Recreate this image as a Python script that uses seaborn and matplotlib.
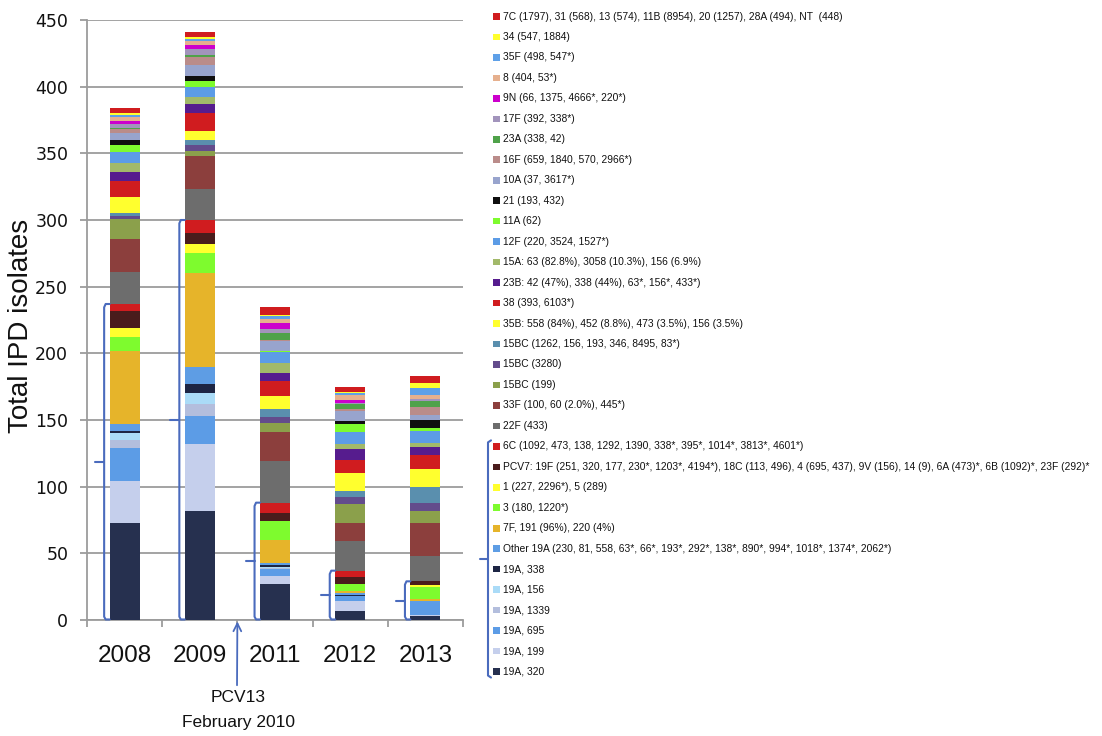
import matplotlib
matplotlib.use("Agg")
import matplotlib.pyplot as plt
from matplotlib import font_manager
from matplotlib.patches import Rectangle
import numpy as np
import pandas as pd
import seaborn as sns

# ---------------------------------------------------------------- data
years = ["2008", "2009", "2011", "2012", "2013"]

# serotype groups, listed from the bottom of each stack to the top
serotypes = [
    "19A, 320",
    "19A, 199",
    "19A, 695",
    "19A, 1339",
    "19A, 156",
    "19A, 338",
    "Other 19A (230, 81, 558, 63*, 66*, 193*, 292*, 138*, 890*, 994*, 1018*, 1374*, 2062*)",
    "7F, 191 (96%), 220 (4%)",
    "3 (180, 1220*)",
    "1 (227, 2296*), 5 (289)",
    "PCV7: 19F (251, 320, 177, 230*, 1203*, 4194*), 18C (113, 496), 4 (695, 437), 9V (156), 14 (9), 6A (473)*, 6B (1092)*, 23F (292)*",
    "6C (1092, 473, 138, 1292, 1390, 338*, 395*, 1014*, 3813*, 4601*)",
    "22F (433)",
    "33F (100, 60 (2.0%), 445*)",
    "15BC (199)",
    "15BC (3280)",
    "15BC (1262, 156, 193, 346, 8495, 83*)",
    "35B: 558 (84%), 452 (8.8%), 473 (3.5%), 156 (3.5%)",
    "38 (393, 6103*)",
    "23B: 42 (47%), 338 (44%), 63*, 156*, 433*)",
    "15A: 63 (82.8%), 3058 (10.3%), 156 (6.9%)",
    "12F (220, 3524, 1527*)",
    "11A (62)",
    "21 (193, 432)",
    "10A (37, 3617*)",
    "16F (659, 1840, 570, 2966*)",
    "23A (338, 42)",
    "17F (392, 338*)",
    "9N (66, 1375, 4666*, 220*)",
    "8 (404, 53*)",
    "35F (498, 547*)",
    "34 (547, 1884)",
    "7C (1797), 31 (568), 13 (574), 11B (8954), 20 (1257), 28A (494), NT  (448)",
]

serotype_colors = [
    "#26304f", "#c5cfec", "#5c9ce6", "#b3bedd", "#aadbf7", "#1d2544",
    "#5e9de4", "#e6b42a", "#7efb2e", "#ffff2e", "#4a1c1c", "#d01c1f",
    "#6d6d6d", "#8c3f3d", "#8ba04b", "#634c8c", "#5a8fae", "#ffff2e",
    "#d01c1f", "#561c8e", "#a2b96a", "#5c9ce6", "#7efb2e", "#0f0f0f",
    "#98a4cd", "#ba8c8a", "#4fa24a", "#a294bc", "#cc00cc", "#e6b08e",
    "#5ea0e8", "#ffff2e", "#d01c1f",
]

# isolate counts per year, same order as serotypes (bottom -> top)
counts_2008 = [73, 31, 25, 6, 5, 2, 5, 55, 10, 7, 13, 5, 24, 25, 15, 2, 2,
               12, 12, 7, 7, 8, 5, 4, 5, 3, 1, 3, 2, 3, 2, 1, 4]
counts_2009 = [82, 50, 21, 9, 8, 7, 13, 70, 15, 7, 8, 10, 23, 25, 4, 4, 4,
               7, 13, 7, 5, 8, 4, 4, 8, 6, 2, 4, 3, 3, 2, 1, 4]
counts_2011 = [27, 6, 5, 1, 1, 1, 2, 17, 14, 0, 6, 8, 31, 22, 7, 4, 6,
               10, 11, 6, 8, 8, 1, 0, 7, 1, 5, 3, 5, 3, 2, 1, 6]
counts_2012 = [7, 7, 4, 0, 0, 1, 1, 2, 5, 0, 5, 5, 22, 14, 14, 5, 5,
               13, 10, 8, 4, 9, 6, 2, 8, 1, 4, 1, 2, 4, 1, 1, 4]
counts_2013 = [3, 1, 9, 0, 0, 0, 1, 2, 9, 1, 3, 0, 19, 25, 9, 6, 12,
               13, 11, 6, 3, 9, 2, 6, 4, 6, 4, 2, 0, 3, 5, 4, 5]

PCV13_TOP = serotypes.index(
    "6C (1092, 473, 138, 1292, 1390, 338*, 395*, 1014*, 3813*, 4601*)")

counts = pd.DataFrame(
    np.array([counts_2008, counts_2009, counts_2011, counts_2012, counts_2013]).T,
    index=serotypes, columns=years)
cumulative = counts.cumsum(axis=0)

# ---------------------------------------------------------------- style
sns.set_theme(style="white")
available = {f.name for f in font_manager.fontManager.ttflist}
narrow = "Liberation Sans Narrow" if "Liberation Sans Narrow" in available else None
plt.rcParams["font.family"] = ["DejaVu Sans"]

legend_family = narrow or "Liberation Sans"
legend_size = 8.9 if narrow else 7.4
label_family = narrow or "Liberation Sans"
label_size = 25 if narrow else 20

W, H = 1102, 736
fig = plt.figure(figsize=(W / 100, H / 100), dpi=100)
ax = fig.add_axes([87 / W, 116 / H, 376 / W, 600 / H])

grid_gray = "#9c9c9c"
brace_blue = "#4a6bbd"

# stacked bars: draw running totals from the top series down, each covering the next
for k in range(len(serotypes) - 1, -1, -1):
    sns.barplot(x=years, y=cumulative.iloc[k].values, order=years,
                color=serotype_colors[k], saturation=1, width=0.4,
                linewidth=0, errorbar=None, ax=ax, zorder=3)

ax.set_xlim(-0.5, len(years) - 0.5)
ax.set_ylim(0, 450)
ax.set_yticks(np.arange(0, 451, 50))
ax.yaxis.grid(True, color=grid_gray, linewidth=1.3, zorder=0)
ax.set_axisbelow(True)
for side in ("top", "right"):
    ax.spines[side].set_visible(False)
for side in ("left", "bottom"):
    ax.spines[side].set_color(grid_gray)
    ax.spines[side].set_linewidth(1.3)

ax.tick_params(axis="y", length=5, width=1.3, color=grid_gray, pad=8.5,
               labelsize=12.5, labelcolor="#111111", left=True)
ax.set_xticks(range(len(years)))
ax.set_xticklabels(years, fontfamily="Liberation Sans", fontsize=17.5)
ax.tick_params(axis="x", length=0, pad=18, labelcolor="#111111")
ax.set_xticks(np.arange(-0.5, len(years), 1.0), minor=True)
ax.tick_params(axis="x", which="minor", length=5, width=1.3, color=grid_gray,
               bottom=True)
ax.set_xlabel("")
ax.set_ylabel("Total IPD isolates", fontfamily=label_family, fontsize=label_size,
              color="#111111")
ax.yaxis.set_label_coords(-0.14, 0.49)

# braces marking the PCV13-type serotypes in each bar
for i, year in enumerate(years):
    top = cumulative[year].iloc[PCV13_TOP]
    mid = top / 2.0
    left, bx, tip = i - 0.2, i - 0.272, i - 0.39
    ax.plot([left, bx + 0.02, bx, bx, bx + 0.02, left],
            [top, top, top - 2.5, 2.5, 0.4, 0.4],
            color=brace_blue, linewidth=1.5, zorder=4, solid_joinstyle="round",
            clip_on=False)
    ax.plot([bx, tip], [mid, mid], color=brace_blue, linewidth=1.5, zorder=4,
            clip_on=False)

# vaccine introduction marker
ax.annotate("", xy=(1.5, 1), xycoords="data",
            xytext=(237 / W, 1 - 688 / H), textcoords="figure fraction",
            arrowprops=dict(arrowstyle="->", color=brace_blue, lw=1.3,
                            mutation_scale=14))
fig.text(238 / W, 1 - 697 / H, "PCV13", ha="center", va="center",
         fontfamily="Liberation Sans", fontsize=12.5, color="#111111")
fig.text(238 / W, 1 - 722 / H, "February 2010", ha="center", va="center",
         fontfamily="Liberation Sans", fontsize=12.5, color="#111111")

# ---------------------------------------------------------------- key
key = fig.add_axes([0, 0, 1, 1], zorder=5)
key.set_xlim(0, W)
key.set_ylim(H, 0)
key.axis("off")

row0, step = 16.5, 20.47
for r, k in enumerate(range(len(serotypes) - 1, -1, -1)):
    y = row0 + r * step
    key.add_patch(Rectangle((493, y - 3.3), 6.6, 6.6, facecolor=serotype_colors[k],
                            edgecolor="none"))
    key.text(503, y, serotypes[k], ha="left", va="center",
             fontfamily=legend_family, fontsize=legend_size, color="#111111")

# brace grouping the PCV13-type entries of the key
first = row0 + (len(serotypes) - 1 - PCV13_TOP) * step
last = row0 + (len(serotypes) - 1) * step
bx = 488
key.plot([bx + 3, bx, bx, bx + 3], [first - 6, first - 4, last + 4, last + 6],
         color=brace_blue, linewidth=1.5, solid_joinstyle="round")
key.plot([bx, bx - 8], [(first + last) / 2] * 2, color=brace_blue, linewidth=1.5)

fig.savefig("out.png", dpi=100, facecolor="white")
